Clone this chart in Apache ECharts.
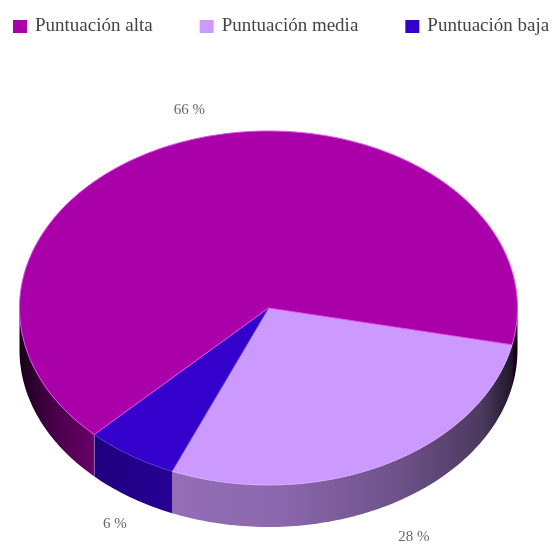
<!DOCTYPE html>
<html>
<head>
<meta charset="utf-8">
<style>
  html, body { margin: 0; padding: 0; background: #fff; }
  #chart { width: 558px; height: 545px; }
</style>
<script src="https://cdn.jsdelivr.net/npm/echarts@6/dist/echarts.min.js"></script>
</head>
<body>
<div id="chart"></div>
<script>
var categories = ['Puntuación alta', 'Puntuación media', 'Puntuación baja'];
var shares = [66, 28, 6];
var colors = ['#aa00aa', '#cc99ff', '#3300cc'];
var rimColors = ['#e050f0', '#d8a8ff', '#5530d8'];

// pie drawn by hand, echarts has no tilted pie
var cx = 268.5, cy = 308, rx = 249, ry = 177, depth = 42;
var startDeg = 134.4; // clockwise from east, where alta starts
var labelReach = [[1.10, 1.169], [1.26, 1.195], [1.115, 1.18]];

// wall brightness from the left to the right edge of the pie
var wallShade = [[0, 0.15], [0.06, 0.4], [0.15, 0.62], [0.3, 0.72], [0.52, 0.68], [0.77, 0.53], [0.93, 0.37], [1, 0.12]];

function shadeColor(hex, k) {
  var n = parseInt(hex.slice(1), 16);
  return 'rgb(' + Math.round((n >> 16) * k) + ',' + Math.round(((n >> 8) & 255) * k) + ',' + Math.round((n & 255) * k) + ')';
}

function rimPoint(deg, dy) {
  var a = deg * Math.PI / 180;
  return [cx + rx * Math.cos(a), cy + ry * Math.sin(a) + dy];
}

function arc(from, to, dy) {
  var pts = [];
  var steps = Math.max(2, Math.ceil(Math.abs(to - from)));
  for (var i = 0; i <= steps; i++) {
    pts.push(rimPoint(from + (to - from) * i / steps, dy));
  }
  return pts;
}

function wallPiece(from, to, color) {
  var stops = wallShade.map(function (s) {
    return { offset: s[0], color: shadeColor(color, s[1]) };
  });
  return {
    type: 'polygon',
    shape: { points: arc(from, to, 0).concat(arc(to, from, depth)) },
    style: { fill: new echarts.graphic.LinearGradient(cx - rx, 0, cx + rx, 0, stops, true) },
    z2: 1
  };
}

function sliceRange(idx) {
  var total = shares.reduce(function (a, b) { return a + b; }, 0);
  var before = shares.slice(0, idx).reduce(function (a, b) { return a + b; }, 0);
  return [startDeg + before / total * 360, startDeg + (before + shares[idx]) / total * 360];
}

function makeRender(idx) {
  return function (params, api) {
    var r = sliceRange(idx);
    var from = r[0], to = r[1];
    var kids = [];
    // only the front half of the rim shows a wall
    [[0, 180], [360, 540]].forEach(function (w) {
      var a = Math.max(from, w[0]), b = Math.min(to, w[1]);
      if (b > a) kids.push(wallPiece(a, b, colors[idx]));
    });
    // faint seam where two walls meet
    if (from > 0 && from < 180) {
      var p = rimPoint(from, 0);
      kids.push({
        type: 'line',
        shape: { x1: p[0], y1: p[1], x2: p[0], y2: p[1] + depth },
        style: { stroke: 'rgba(255,255,255,0.3)', lineWidth: 1 },
        z2: 2
      });
    }
    kids.push({
      type: 'polygon',
      shape: { points: [[cx, cy]].concat(arc(from, to, 0)) },
      style: { fill: colors[idx], stroke: rimColors[idx], lineWidth: 1 },
      z2: 3 + (idx === 0 ? 1 : 0)
    });
    var a = (from + to) / 2 * Math.PI / 180;
    var k = labelReach[idx];
    var lift = Math.sin(a) > 0 ? depth : 0;
    kids.push({
      type: 'text',
      x: cx + rx * k[0] * Math.cos(a),
      y: cy + ry * k[1] * Math.sin(a) + lift,
      style: {
        text: api.value(0) + ' %',
        fill: '#666',
        font: '15px "Liberation Serif"',
        align: 'center',
        verticalAlign: 'middle'
      },
      z2: 5
    });
    return { type: 'group', children: kids };
  };
}

var chart = echarts.init(document.getElementById('chart'));
chart.setOption({
  animation: false,
  backgroundColor: '#fff',
  legend: {
    data: categories,
    left: 8,
    top: 12,
    icon: 'rect',
    itemWidth: 14,
    itemHeight: 13,
    itemGap: 47,
    textStyle: { fontFamily: 'Liberation Serif', fontSize: 19, color: '#444', padding: [0, 0, 0, 3] }
  },
  series: categories.map(function (name, i) {
    return {
      name: name,
      type: 'custom',
      coordinateSystem: 'none',
      itemStyle: { color: colors[i] },
      renderItem: makeRender(i),
      data: [shares[i]]
    };
  })
});
</script>
</body>
</html>
